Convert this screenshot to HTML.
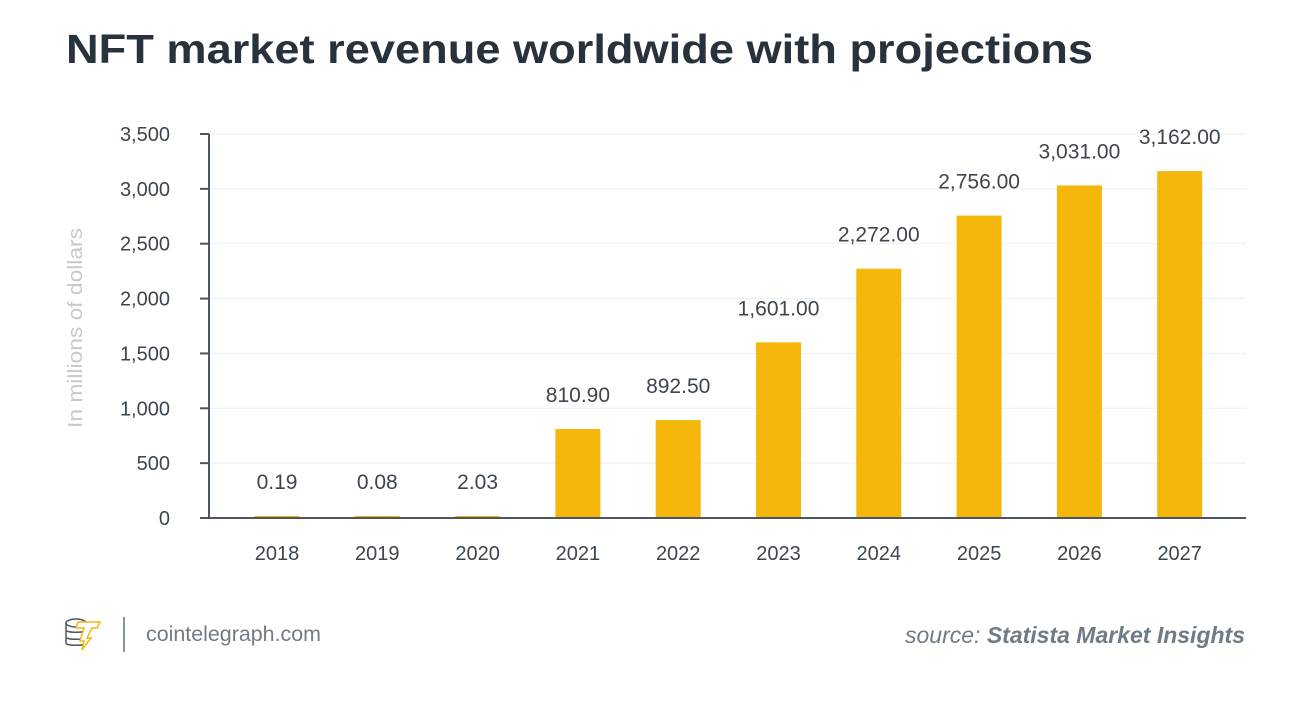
<!DOCTYPE html>
<html><head><meta charset="utf-8"><style>
body{margin:0;width:1294px;height:696px;background:#fff;overflow:hidden;font-family:"Liberation Sans",sans-serif;}
</style></head><body>
<svg width="1294" height="696">
<text x="66" y="63" font-size="41" font-weight="bold" fill="#27323c" textLength="1027" lengthAdjust="spacingAndGlyphs">NFT market revenue worldwide with projections</text>
<text transform="translate(82,328) rotate(-90)" text-anchor="middle" font-size="20" fill="#c3cbd0" textLength="200" lengthAdjust="spacingAndGlyphs">In millions of dollars</text>
<g id="grid"></g><g id="bars"></g><g id="labels"></g>
<line x1="209" y1="134" x2="209" y2="518" stroke="#4b5660" stroke-width="2"/>
<line x1="200" y1="518" x2="1246" y2="518" stroke="#4b5660" stroke-width="2"/>
<g>
<ellipse cx="76" cy="623" rx="10" ry="4" fill="none" stroke="#4b5660" stroke-width="1.5"/>
<path d="M66 623v20c0 3 20 3 20 0v-20M66 630c0 3 20 3 20 0M66 637c0 3 20 3 20 0" fill="none" stroke="#4b5660" stroke-width="1.5"/>
<path d="M78 622h22l-3 6h-5l-5 10h4l-9 12 2-9h-4l4-13h-8z" fill="#fff" stroke="#f2b90f" stroke-width="1.5"/>
</g>
<line x1="124" y1="617" x2="124" y2="652" stroke="#8a949c" stroke-width="2"/>
<text x="146" y="641" font-size="21" fill="#6f7b85" textLength="175" lengthAdjust="spacingAndGlyphs">cointelegraph.com</text>
<text x="1245" y="643" text-anchor="end" font-size="23" fill="#6f7b85" font-style="italic">source: <tspan font-weight="bold">Statista Market Insights</tspan></text>
</svg>
<script>
const categories=["2018","2019","2020","2021","2022","2023","2024","2025","2026","2027"];
const values=[0.19,0.08,2.03,810.9,892.5,1601,2272,2756,3031,3162];
const valueLabels=["0.19","0.08","2.03","810.90","892.50","1,601.00","2,272.00","2,756.00","3,031.00","3,162.00"];
const yTicks=[0,500,1000,1500,2000,2500,3000,3500];
const yTickLabels=["0","500","1,000","1,500","2,000","2,500","3,000","3,500"];
const NS="http://www.w3.org/2000/svg";
const y=v=>518-v*(384/3500);
const x=i=>277+i*100.3;
const g=document.getElementById('grid'),b=document.getElementById('bars'),l=document.getElementById('labels');
function mk(tag,attrs,parent,txt){const e=document.createElementNS(NS,tag);for(const k in attrs)e.setAttribute(k,attrs[k]);if(txt!==undefined)e.textContent=txt;parent.appendChild(e);return e;}
yTicks.forEach((t,i)=>{
  const gl=mk('line',{x1:209,x2:1246,y1:y(t),y2:y(t),stroke:'#eceff1','stroke-width':1},g);
  
  
  const tk=mk('line',{x1:200,x2:209,y1:y(t),y2:y(t),stroke:'#4b5660','stroke-width':2},g);
  
  
  const tl=mk('text',{x:170,y:y(t)+7,'text-anchor':'end','font-size':20,fill:'#3c4650'},g,yTickLabels[i]);
  
  
});
categories.forEach((c,i)=>{
  const top=Math.min(y(values[i]),516);
  const r=mk('rect',{x:x(i)-22.5,y:top,width:45,height:518-top,fill:'#f5b70c'},b);
  
  
  const vl=mk('text',{x:x(i),y:top-27,'text-anchor':'middle','font-size':21,fill:'#3c4650'},l,valueLabels[i]);
  
  
  const xl=mk('text',{x:x(i),y:560,'text-anchor':'middle','font-size':20,fill:'#3c4650'},l,c);
  
  
});
</script>
</body></html>
